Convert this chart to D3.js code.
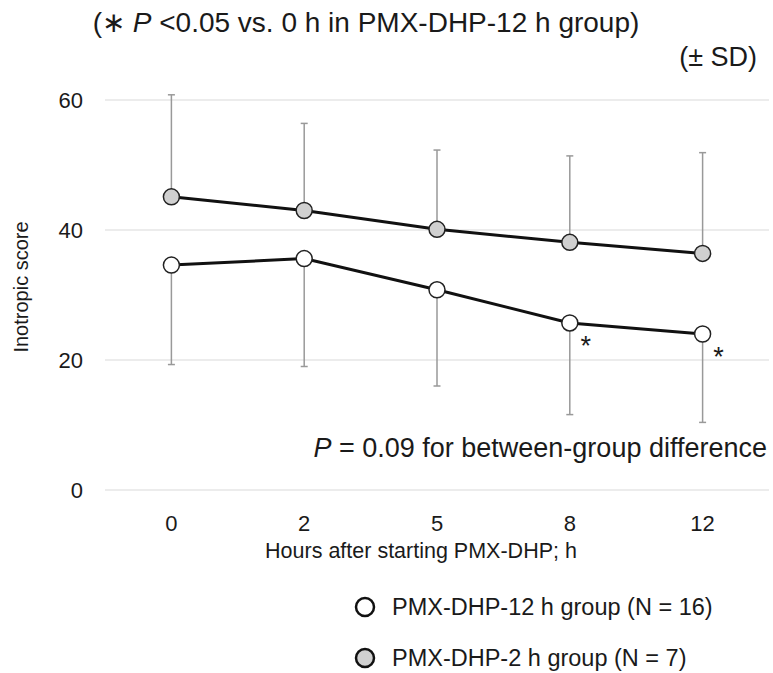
<!DOCTYPE html>
<html>
<head>
<meta charset="utf-8">
<script src="https://cdn.jsdelivr.net/npm/d3@7"></script>
<style>
  body { margin: 0; background: #fff; }
  text { font-family: "Liberation Sans", Arial, sans-serif; fill: #1a1a1a; }
</style>
</head>
<body>
<svg id="chart" width="773" height="673"></svg>
<script>
// hours after start
var hours = ["0", "2", "5", "8", "12"];
// PMX-DHP-12 h group (white), mean and SD (drawn downward)
var group12Mean = [34.6, 35.6, 30.8, 25.7, 24.0];
var group12SD = [15.3, 16.6, 14.8, 14.1, 13.6];
// PMX-DHP-2 h group (grey), mean and SD (drawn upward)
var group2Mean = [45.1, 43.0, 40.1, 38.1, 36.4];
var group2SD = [15.7, 13.4, 12.2, 13.3, 15.5];
// points with P<0.05 vs 0 h
var signif = ["8", "12"];
var yTicks = [0, 20, 40, 60];

drawChart();

function drawChart(){
    var svg = d3.select("#chart");

    var x = d3.scaleBand().domain(hours).range([105, 769]);
    var y = d3.scaleLinear().domain([0, 60]).range([490, 100]);
    var cx = function(d){ return x(d) + x.bandwidth() / 2; };

    // gridlines
    svg.append("g").selectAll("line")
        .data(yTicks).enter().append("line")
        .attr("x1", 105).attr("x2", 769)
        .attr("y1", function(d){ return y(d); })
        .attr("y2", function(d){ return y(d); })
        .style("stroke", "#e6e6e6").style("stroke-width", 1.5);

    // y axis labels
    svg.append("g").selectAll("text")
        .data(yTicks).enter().append("text")
        .attr("x", 83).attr("y", function(d){ return y(d); })
        .attr("dy", "0.35em")
        .attr("text-anchor", "end")
        .style("font-size", "22px")
        .text(function(d){ return d; });

    // x axis labels
    svg.append("g").selectAll("text")
        .data(hours).enter().append("text")
        .attr("x", cx).attr("y", 523)
        .attr("dy", "0.35em")
        .attr("text-anchor", "middle")
        .style("font-size", "22px")
        .text(function(d){ return d; });

    svg.append("text")
        .attr("x", 421).attr("y", 550)
        .attr("dy", "0.35em")
        .attr("text-anchor", "middle")
        .style("font-size", "21.5px")
        .text("Hours after starting PMX-DHP; h");

    svg.append("text")
        .attr("transform", "translate(21,287) rotate(-90)")
        .attr("dy", "0.35em")
        .attr("text-anchor", "middle")
        .style("font-size", "20px")
        .text("Inotropic score");

    // error bars
    function errBars(means, sds, dir){
        var g = svg.append("g").style("stroke", "#999").style("stroke-width", 1.5);
        hours.forEach(function(h, i){
            var yEnd = y(means[i] + dir * sds[i]);
            g.append("line").attr("x1", cx(h)).attr("x2", cx(h))
                .attr("y1", y(means[i])).attr("y2", yEnd);
            g.append("line").attr("x1", cx(h) - 3.5).attr("x2", cx(h) + 3.5)
                .attr("y1", yEnd).attr("y2", yEnd);
        });
    }
    errBars(group2Mean, group2SD, 1);
    errBars(group12Mean, group12SD, -1);

    var line = d3.line()
        .x(function(d, i){ return cx(hours[i]); })
        .y(function(d){ return y(d); });

    function series(means, fill){
        svg.append("path").datum(means)
            .attr("d", line)
            .style("fill", "none").style("stroke", "#111").style("stroke-width", 3);
        svg.append("g").selectAll("circle")
            .data(means).enter().append("circle")
            .attr("cx", function(d, i){ return cx(hours[i]); })
            .attr("cy", function(d){ return y(d); })
            .attr("r", 8)
            .style("fill", fill).style("stroke", "#222").style("stroke-width", 1.5);
    }
    series(group2Mean, "#d0d0d0");
    series(group12Mean, "#fff");

    // significance asterisks
    svg.append("g").selectAll("text")
        .data(signif).enter().append("text")
        .attr("x", function(d){ return cx(d) + 16; })
        .attr("y", function(d){ return y(group12Mean[hours.indexOf(d)]) + 32; })
        .attr("text-anchor", "middle")
        .style("font-size", "27px")
        .text("*");

    svg.append("text")
        .attr("x", 767).attr("y", 448)
        .attr("dy", "0.35em")
        .attr("text-anchor", "end")
        .style("font-size", "27px")
        .html('<tspan font-style="italic">P</tspan> = 0.09 for between-group difference');

    // header notes
    svg.append("text")
        .attr("x", 366).attr("y", 22)
        .attr("dy", "0.35em")
        .attr("text-anchor", "middle")
        .style("font-size", "28px")
        .html('(\u2217 <tspan font-style="italic">P</tspan> &lt;0.05 vs. 0 h in PMX-DHP-12 h group)');

    svg.append("text")
        .attr("x", 757).attr("y", 57)
        .attr("dy", "0.35em")
        .attr("text-anchor", "end")
        .style("font-size", "27px")
        .text("(\u00b1 SD)");

    // legend
    var legend = [
        {label: "PMX-DHP-12 h group (N = 16)", fill: "#fff", y: 607},
        {label: "PMX-DHP-2 h group (N = 7)", fill: "#d0d0d0", y: 658}
    ];
    var lg = svg.append("g").selectAll("g").data(legend).enter().append("g");
    lg.append("circle")
        .attr("cx", 365).attr("cy", function(d){ return d.y; })
        .attr("r", 9)
        .style("fill", function(d){ return d.fill; })
        .style("stroke", "#111").style("stroke-width", 2.5);
    lg.append("text")
        .attr("x", 392).attr("y", function(d){ return d.y; })
        .attr("dy", "0.35em")
        .style("font-size", "23.5px")
        .text(function(d){ return d.label; });
}
</script>
</body>
</html>
